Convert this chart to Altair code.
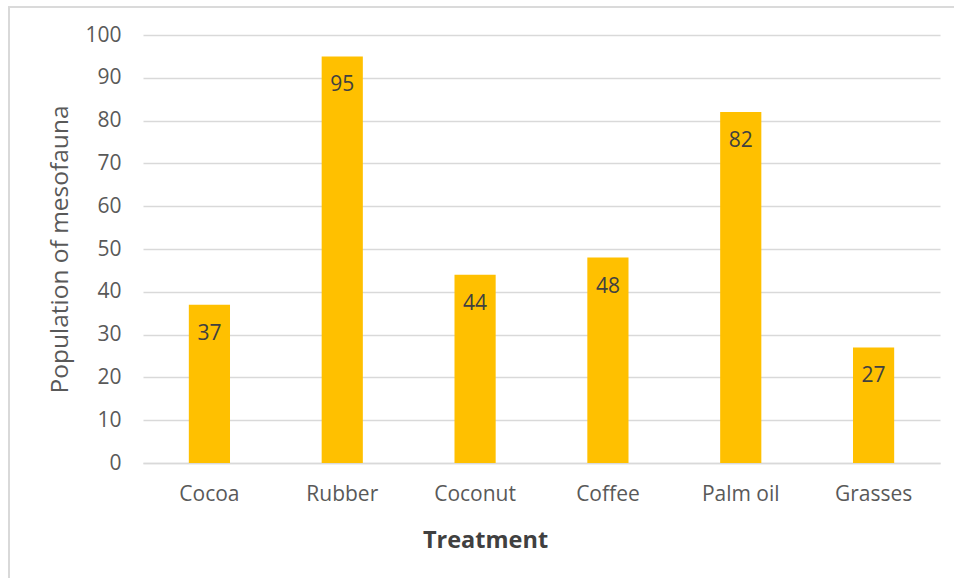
import altair as alt
import pandas as pd

# Mesofauna counts per land-use treatment
treatments = ["Cocoa", "Rubber", "Coconut", "Coffee", "Palm oil", "Grasses"]
populations = [37, 95, 44, 48, 82, 27]

df = pd.DataFrame({"Treatment": treatments, "Population": populations})

FONT = "Open Sans"
GOLD = "#FFC000"
GRID = "#D9D9D9"

x_enc = alt.X(
    "Treatment:N",
    sort=treatments,
    scale=alt.Scale(paddingInner=0.69, paddingOuter=0.345),
    axis=alt.Axis(
        title="Treatment",
        labelAngle=0,
        labelFont=FONT,
        labelFontSize=21,
        labelColor="#595959",
        labelPadding=20,
        ticks=False,
        domainColor=GRID,
        domainWidth=1.5,
        titleFont=FONT,
        titleFontSize=23.5,
        titleFontWeight="bold",
        titleColor="#404040",
        titlePadding=24,
        titleX=342,
    ),
)

y_enc = alt.Y(
    "Population:Q",
    scale=alt.Scale(domain=[0, 100], nice=False),
    axis=alt.Axis(
        title="Population of mesofauna",
        values=list(range(0, 101, 10)),
        labelFont=FONT,
        labelFontSize=21,
        labelColor="#595959",
        labelPadding=22,
        ticks=False,
        domain=False,
        grid=True,
        gridColor=GRID,
        gridWidth=1.5,
        titleFont=FONT,
        titleFontSize=24.5,
        titleFontWeight="normal",
        titleColor="#595959",
        titlePadding=12,
    ),
)

bars = alt.Chart(df).mark_bar(color=GOLD).encode(x=x_enc, y=y_enc)

labels = alt.Chart(df).mark_text(
    font=FONT, fontSize=21, color="#404040", baseline="middle", dy=29
).encode(
    x=alt.X("Treatment:N", sort=treatments),
    y=alt.Y("Population:Q"),
    text=alt.Text("Population:Q"),
)

# Light frame around the chart (left and top edges)
frame_left = alt.Chart(df).mark_rule(color=GRID, strokeWidth=1.5).encode(
    x=alt.value(-134), y=alt.value(-28), y2=alt.value(560)
)
frame_top = alt.Chart(df).mark_rule(color=GRID, strokeWidth=1.2).encode(
    x=alt.value(-135), x2=alt.value(830), y=alt.value(-28)
)

chart = (
    alt.layer(bars, labels, frame_left, frame_top)
    .properties(
        width=797,
        height=428,
        autosize=alt.AutoSizeParams(type="none"),
        padding={"left": 143, "top": 35, "right": 14, "bottom": 115},
        background="white",
    )
    .configure_view(stroke=None)
)

chart.save("out.html", embed_options={"renderer": "svg", "actions": False})
